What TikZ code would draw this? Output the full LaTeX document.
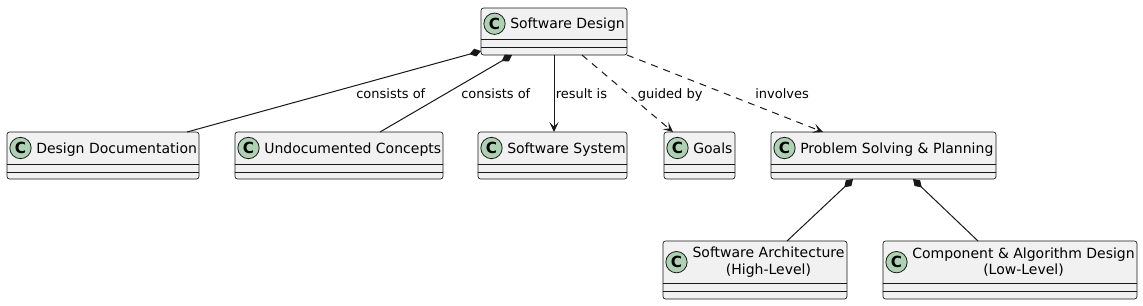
\documentclass[tikz,border=0pt]{standalone}
\usepackage{fontspec}
\setmainfont{DejaVu Sans}
\usetikzlibrary{arrows.meta,calc}
\definecolor{boxfill}{HTML}{F1F1F1}
\definecolor{boxline}{HTML}{181818}
\definecolor{circfill}{HTML}{ADD1B2}
\tikzset{
  classbox/.style={rectangle, draw=boxline, fill=boxfill, line width=0.5pt, rounded corners=1.9pt, inner sep=0pt, outer sep=0pt},
  divider/.style={draw=boxline, line width=0.5pt},
  circ/.style={circle, draw=boxline, fill=circfill, line width=0.6pt, minimum size=16pt, inner sep=0pt, font=\fontsize{11.5}{11.5}\selectfont\bfseries},
  title/.style={inner sep=0pt, font=\fontsize{10.5}{12.4}\selectfont, text=black},
  lbl/.style={inner sep=0pt, font=\fontsize{9.75}{11}\selectfont, anchor=base west, text=black},
  edge/.style={draw=boxline, line width=0.75pt},
  comp/.style={edge, {Diamond[length=9pt,width=6pt]}-},
  dep/.style={edge, dash pattern=on 5.25pt off 4.5pt, -{Stealth[length=7.5pt,width=7pt,inset=3.5pt]}},
  assoc/.style={edge, -{Stealth[length=7.5pt,width=7pt,inset=3.5pt]}}
}
\newcommand{\umlbox}[6]{%
  \node[classbox, anchor=north west, minimum width={(#4-#2)*0.75pt}, minimum height={(#5-#3)*0.75pt}] (#1) at (#2,#3) {};
  \draw[divider] (#2,#6) -- (#4,#6);
  \draw[divider] (#2,#6+8) -- (#4,#6+8);
  \node[circ] (#1-c) at (#2+13.5,{(#3+#6)/2}) {C};
}
\begin{document}
\begin{tikzpicture}[x=0.75pt,y=-0.75pt]
  \fill[white] (0,0) rectangle (1143,305);
  \useasboundingbox (0,0) rectangle (1143,305);

  % classes
  \umlbox{sd}{481}{8}{627}{55}{39.5}
  \node[title, anchor=base west] (sd-t) at (510,28.8) {Software Design};

  \umlbox{dd}{7}{132}{199}{179}{164}
  \node[title, anchor=base west] (dd-t) at (36,153.2) {Design Documentation};

  \umlbox{uc}{235}{132}{443}{179}{164}
  \node[title, anchor=base west] (uc-t) at (264,153.2) {Undocumented Concepts};

  \umlbox{ss}{478}{132}{627}{179}{164}
  \node[title, anchor=base west] (ss-t) at (507,153.2) {Software System};

  \umlbox{goals}{664}{132}{735}{179}{164}
  \node[title, anchor=base west] (goals-t) at (693,153.2) {Goals};

  \umlbox{psp}{771}{132}{996}{179}{164}
  \node[title, anchor=base west] (psp-t) at (800,153.2) {Problem Solving \& Planning};

  \umlbox{sa}{663}{241}{847}{299}{283.3}
  \node[title, align=center] (sa-t) at (768.5,262.3) {Software Architecture\\(High-Level)};

  \umlbox{ca}{883}{241}{1137}{299}{283.3}
  \node[title, align=center] (ca-t) at (1023.5,262.3) {Component \& Algorithm Design\\(Low-Level)};

  % connectors
  \draw[comp] ($(sd.south west)+(0,-4)$) -- ($(dd.north west)+(180,0)$);
  \draw[comp] ($(sd.south west)+(31,0)$) -- ($(uc.north west)+(145,0)$);
  \draw[assoc] ($(sd.south west)+(73,0)$) -- ($(ss.north west)+(76,0)$);
  \draw[dep] ($(sd.south west)+(101,0)$) -- ($(goals.north west)+(9,0)$);
  \draw[dep] (sd.south east) -- ($(psp.north west)+(52,0)$);
  \draw[comp] ($(psp.south west)+(82,0)$) -- ($(sa.north west)+(124,0)$);
  \draw[comp] ($(psp.south west)+(142,0)$) -- ($(ca.north west)+(95,0)$);

  % labels
  \node[lbl] (l-dd) at (356,98) {consists of};
  \node[lbl] (l-uc) at (461,98) {consists of};
  \node[lbl] (l-ss) at (555.5,98) {result is};
  \node[lbl] (l-goals) at (637.5,98) {guided by};
  \node[lbl] (l-psp) at (755,98) {involves};
\end{tikzpicture}
\end{document}
